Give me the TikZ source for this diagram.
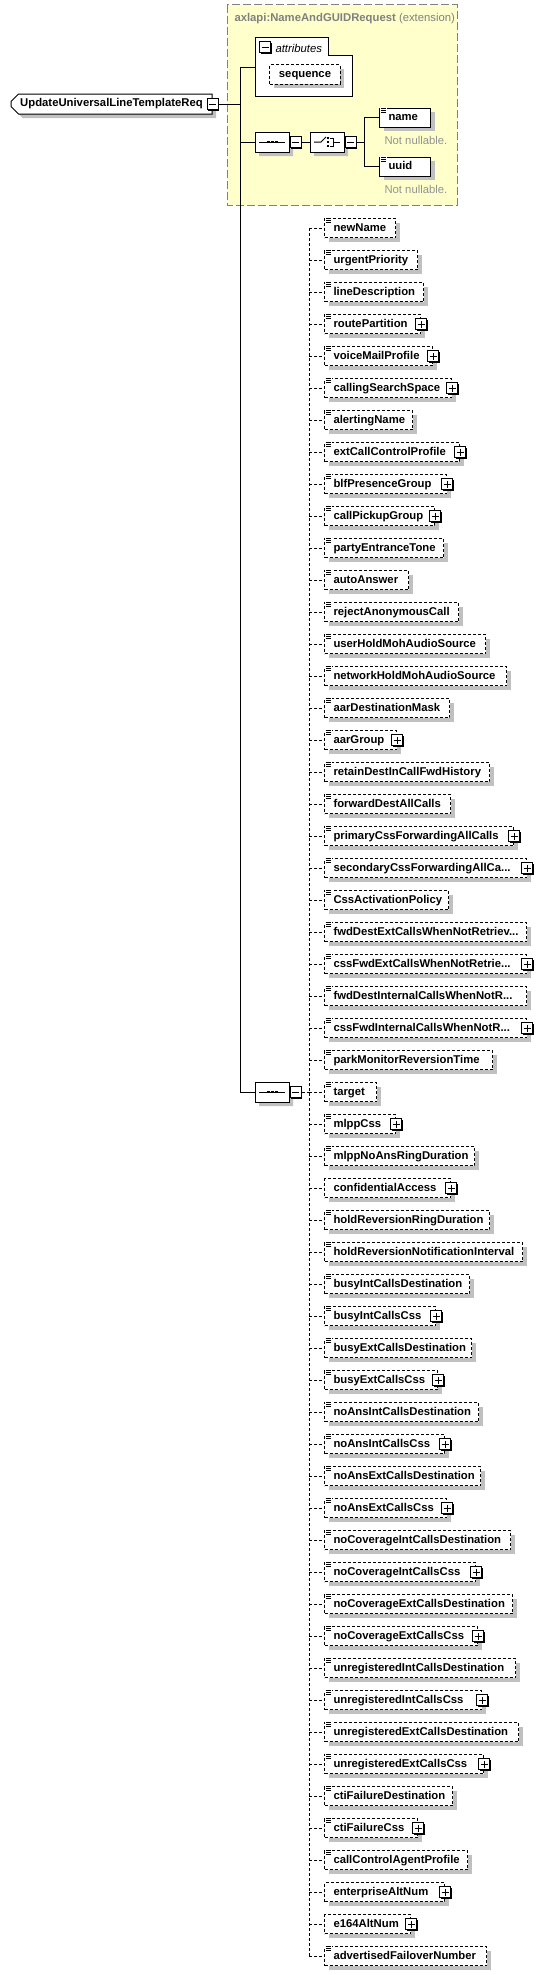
\documentclass[tikz,border=0pt]{standalone}
\usepackage{fontspec}
\setmainfont{Liberation Sans}
\usetikzlibrary{positioning, shapes.misc, shadows}

\definecolor{boxshadow}{RGB}{192,192,192}
\definecolor{extfill}{RGB}{255,255,204}
\definecolor{extgray}{RGB}{128,128,128}
\newcommand\elide{{.}{.}{.}}

\begin{document}
\begin{tikzpicture}[x=1pt, y=-1pt, line width=1pt, font=\fontsize{11.3}{13}\selectfont]
  \tikzset{
    boxshade/.style={drop shadow={shadow xshift=4pt, shadow yshift=-4pt, fill=boxshadow, opacity=1}},
    elem/.style={draw, fill=white, boxshade, anchor=west, minimum height=19pt, inner xsep=9pt, inner ysep=0pt,
      align=left, text height=8.5pt, text depth=2.5pt, font=\fontsize{11.3}{13}\selectfont\bfseries},
    optelem/.style={elem, dash pattern=on 3pt off 2pt},
    dashline/.style={dash pattern=on 3pt off 2pt},
    togglebox/.style={draw, fill=white, minimum size=11pt, inner sep=0pt,
      drop shadow={shadow xshift=1pt, shadow yshift=-1pt, fill=black, opacity=1}},
    minusbox/.style={togglebox, path picture={
      \draw ([xshift=-3.5pt]path picture bounding box.center) -- ([xshift=3.5pt]path picture bounding box.center);}},
    plusbox/.style={togglebox, path picture={
      \draw ([xshift=-3.5pt]path picture bounding box.center) -- ([xshift=3.5pt]path picture bounding box.center);
      \draw ([yshift=-3.5pt]path picture bounding box.center) -- ([yshift=3.5pt]path picture bounding box.center);}},
    compositor/.style={chamfered rectangle, chamfered rectangle xsep=5pt, draw, fill=white, boxshade,
      minimum width=34pt, minimum height=20pt, inner sep=0pt},
    docmark/.pic={\fill[white] (1,-0.5) rectangle (8,5);
      \foreach \k in {0.5,2.5,4.5} \draw[line width=0.8pt] (2,\k) -- (7,\k);},
    seqmark/.pic={\draw (-13,0) -- (13,0);
      \foreach \k in {-4,0,4} \fill (\k-1.5,-1) rectangle (\k+1.5,1);},
    chomark/.pic={\draw (-13,0) -- (-6,0) -- (-1,-5);
      \foreach \k in {-4,0,4} \fill (0,\k-1) rectangle (2,\k+1);
      \draw (3,-4) -- (6,-4) -- (6,4) -- (3,4); \draw (6,0) -- (13,0);}
  }
  \useasboundingbox (0,0) rectangle (554,1975);

  % base type
  \draw[fill=extfill, draw=extgray, dash pattern=on 8pt off 3pt] (227,5) rectangle (457,205);
  \node[anchor=west, text=extgray, inner sep=0pt] (exttitle) at (234,19)
    {\textbf{axlapi:NameAndGUIDRequest} (extension)};

  \draw[fill=white] (255,38) -- (328,38) -- (328,56) -- (352,56) -- (352,96) -- (255,96) -- cycle;
  \coordinate (attr) at (255,68);
  \node[minusbox] (attrx) at (265,47.5) {};
  \node[anchor=west, inner sep=0pt, font=\fontsize{11.3}{13}\selectfont\itshape] (attrlbl) at (275,48) {attributes};
  \node[optelem, anchor=center, minimum width=70pt] (attrseq) at (305,74.5) {sequence};

  % root
  \node[draw, fill=white, boxshade, chamfered rectangle, chamfered rectangle corners={north west, south west},
    chamfered rectangle xsep=4pt, minimum width=201pt, minimum height=20pt, inner sep=0pt,
    font=\fontsize{11.3}{13}\selectfont\bfseries] (root) at (111.5,104) {UpdateUniversalLineTemplateReq};
  \node[minusbox] (rootx) at (root.east) {};
  \coordinate (j) at (240,104);

  \node[compositor] (seqa) at (272,142) {};
  \pic at (seqa) {seqmark};
  \node[minusbox, anchor=west] (seqax) at (seqa.east) {};
  \node[compositor] (choa) at (327,142) {};
  \pic at (choa) {chomark};
  \node[minusbox, anchor=west] (choax) at (choa.east) {};
  \coordinate (br) at (364,142);

  \node[elem, text width=33pt] (nm) at (379,117.5) {name};
  \pic at (nm.north west) {docmark};
  \node[anchor=west, text=extgray!85, inner sep=0pt] (nmnote) at (384,140) {Not nullable.};
  \node[elem, text width=33pt] (uid) at (379,166.5) {uuid};
  \pic at (uid.north west) {docmark};
  \node[anchor=west, text=extgray!85, inner sep=0pt] (uidnote) at (384,189) {Not nullable.};

  \draw (rootx) -- (j);
  \draw (attr) -| (j);
  \draw (j |- seqa) -- (seqa);
  \draw (seqax) -- (choa);
  \draw (choax) -- (br);
  \draw (br) |- (nm);
  \draw (br) |- (uid);

  % second sequence
  \node[compositor] (seqb) at (272,1092) {};
  \pic at (seqb) {seqmark};
  \node[minusbox, anchor=west] (seqbx) at (seqb.east) {};
  \draw (j) |- (seqb);

  \foreach \nm/\w/\p/\c [count=\i] in {
      newName/71/0/1, urgentPriority/93/0/1, lineDescription/99/0/1, routePartition/96/1/1,
      voiceMailProfile/108/1/1, callingSearchSpace/127/1/1, alertingName/88/0/1,
      extCallControlProfile/135/1/1, blfPresenceGroup/122/1/1, callPickupGroup/110/1/1,
      partyEntranceTone/119/0/1, autoAnswer/84/0/1, rejectAnonymousCall/134/0/1,
      userHoldMohAudioSource/161/0/1, networkHoldMohAudioSource/182/0/1, aarDestinationMask/125/0/1,
      aarGroup/72/1/1, retainDestInCallFwdHistory/165/0/1, forwardDestAllCalls/126/0/1,
      primaryCssForwardingAllCalls/189/1/1, secondaryCssForwardingAllCa\elide/202/1/1,
      CssActivationPolicy/124/0/1, fwdDestExtCallsWhenNotRetriev\elide/202/0/1,
      cssFwdExtCallsWhenNotRetrie\elide/202/1/1, fwdDestInternalCallsWhenNotR\elide/202/0/1,
      cssFwdInternalCallsWhenNotR\elide/202/1/1, parkMonitorReversionTime/168/0/1,
      target/52/0/1, mlppCss/71/1/1, mlppNoAnsRingDuration/150/0/1, confidentialAccess/126/1/0,
      holdReversionRingDuration/165/0/1, holdReversionNotificationInterval/198/0/1,
      busyIntCallsDestination/145/0/1, busyIntCallsCss/111/1/1, busyExtCallsDestination/147/0/1,
      busyExtCallsCss/113/1/1, noAnsIntCallsDestination/154/0/1, noAnsIntCallsCss/120/1/1,
      noAnsExtCallsDestination/156/0/1, noAnsExtCallsCss/122/1/1,
      noCoverageIntCallsDestination/186/0/1, noCoverageIntCallsCss/151/1/1,
      noCoverageExtCallsDestination/188/0/1, noCoverageExtCallsCss/153/1/1,
      unregisteredIntCallsDestination/191/0/1, unregisteredIntCallsCss/157/1/1,
      unregisteredExtCallsDestination/194/0/1, unregisteredExtCallsCss/159/1/1,
      ctiFailureDestination/128/0/1, ctiFailureCss/93/1/1, callControlAgentProfile/143/0/1,
      enterpriseAltNum/120/1/0, e164AltNum/86/1/0, advertisedFailoverNumber/162/0/1} {
    \pgfmathsetmacro\y{228+(\i-1)*32}
    \pgfmathsetmacro\tw{\w-18}
    \node[optelem, text width=\tw pt] (e\i) at (324,\y) {\nm};
    \coordinate (t\i) at (309,\y);
    \draw[dashline] (t\i) -- (e\i);
    \ifnum\c=1 \pic at (e\i.north west) {docmark}; \fi
    \ifnum\p=1 \node[plusbox] (p\i) at (e\i.east) {}; \fi
  }
  \draw[dashline] (t1) -- (t55);
  \draw[dashline] (seqbx) -- (seqbx -| t1);
\end{tikzpicture}
\end{document}
